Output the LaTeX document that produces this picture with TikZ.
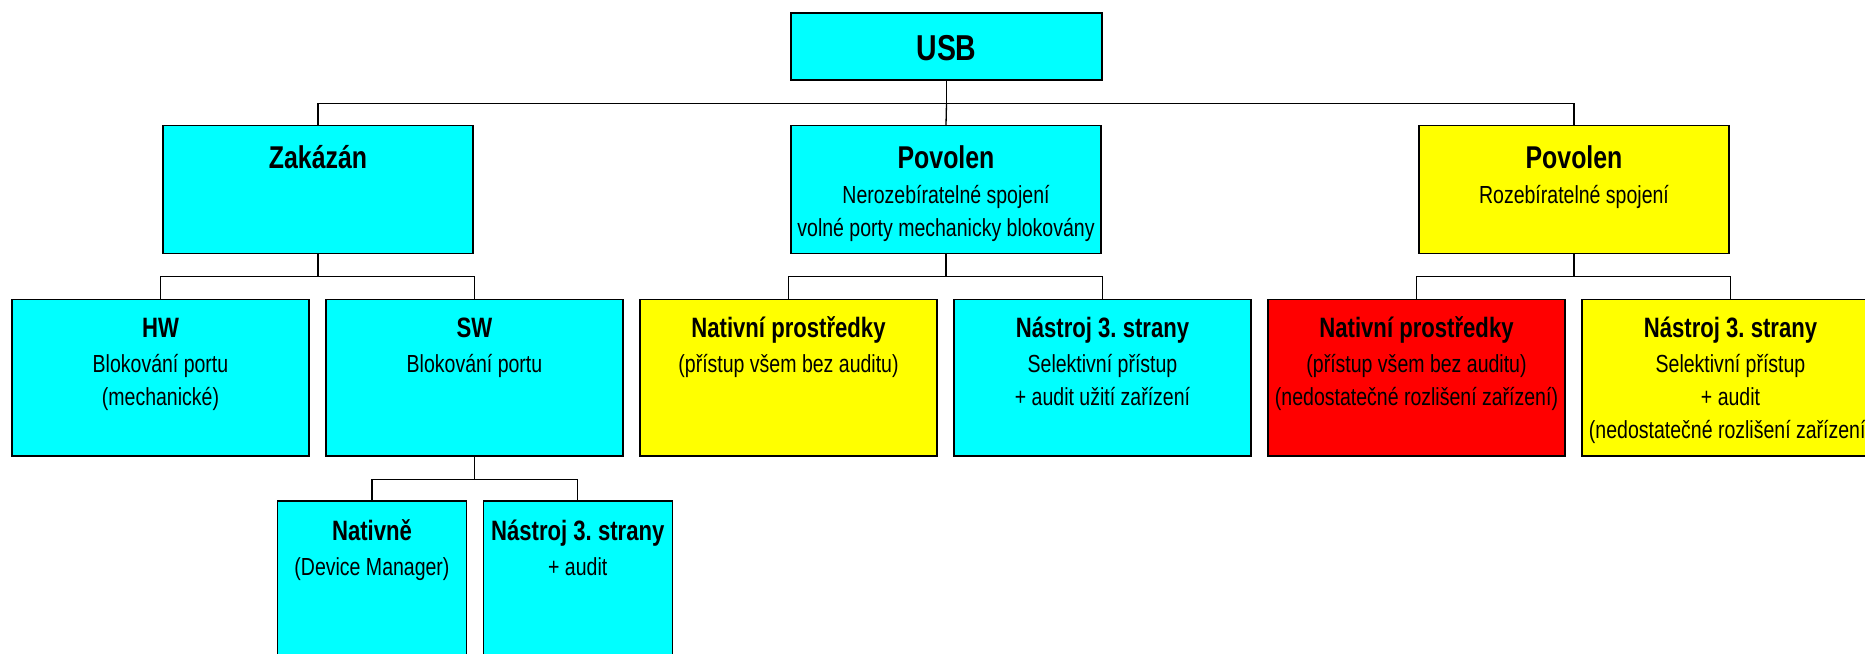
\documentclass[tikz,border=0pt]{standalone}
\usepackage{fontspec}
\setmainfont{Liberation Sans}[FakeStretch=0.79]
\frenchspacing
\definecolor{boxcyan}{RGB}{0,255,255}
\definecolor{boxyellow}{RGB}{255,255,0}
\definecolor{boxred}{RGB}{255,0,0}
\newcommand{\toptitle}{\fontsize{36}{33}\selectfont\bfseries}
\newcommand{\midtitle}{\fontsize{31.5}{33}\selectfont\bfseries}
\newcommand{\lowtitle}{\fontsize{28}{33}\selectfont\bfseries}
\tikzset{
  box/.style={draw,line width=1.4pt,rectangle,inner sep=0pt,
    minimum width=297pt,minimum height=156.5pt},
  wide/.style={box,minimum width=310pt,minimum height=128pt},
  narrow/.style={box,minimum width=189pt,minimum height=157pt},
  txt/.style={anchor=base,align=flush center,inner sep=0pt,text width=320pt,
    font=\fontsize{24.7}{33}\selectfont},
  conn/.style={line width=1.3pt},
}
\begin{document}
\begin{tikzpicture}[x=1pt,y=-1pt]
  \clip (0,0) rectangle (1865,653);
  % boxes
  \node[box,fill=boxcyan,minimum width=311pt,minimum height=67pt] (usb) at (946.5,46.5) {};
  \node[wide,fill=boxcyan] (zak) at (318,189.5) {};
  \node[wide,fill=boxcyan] (povN) at (946,189.5) {};
  \node[wide,fill=boxyellow] (povR) at (1574,189.5) {};
  \node[box,fill=boxcyan] (hw) at (160.5,377.75) {};
  \node[box,fill=boxcyan] (sw) at (474.5,377.75) {};
  \node[box,fill=boxyellow] (natY) at (788.5,377.75) {};
  \node[box,fill=boxcyan] (nasC) at (1102.5,377.75) {};
  \node[box,fill=boxred] (natR) at (1416.5,377.75) {};
  \node[box,fill=boxyellow] (nasY) at (1730.5,377.75) {};
  \node[narrow,fill=boxcyan] (natv) at (372,579.5) {};
  \node[narrow,fill=boxcyan] (nasA) at (577.75,579.5) {};

  % texts
  \node[txt] (usb-t) at (946.5,60) {\toptitle USB};
  \node[txt] (zak-t) at (318,168.5) {\midtitle Zakázán};
  \node[txt] (povN-t) at (946,168.5) {{\midtitle Povolen}\\[1.5pt]
    Nerozebíratelné spojení\\ volné porty mechanicky blokovány};
  \node[txt] (povR-t) at (1574,168.5) {{\midtitle Povolen}\\[1.5pt]
    Rozebíratelné spojení};
  \node[txt] (hw-t) at (160.5,337.5) {{\lowtitle HW}\\[1.5pt]
    Blokování portu\\ (mechanické)};
  \node[txt] (sw-t) at (474.5,337.5) {{\lowtitle SW}\\[1.5pt]
    Blokování portu};
  \node[txt] (natY-t) at (788.5,337.5) {{\lowtitle Nativní prostředky}\\[1.5pt]
    (přístup všem bez auditu)};
  \node[txt] (nasC-t) at (1102.5,337.5) {{\lowtitle Nástroj 3. strany}\\[1.5pt]
    Selektivní přístup\\ + audit užití zařízení};
  \node[txt] (natR-t) at (1416.5,337.5) {{\lowtitle Nativní prostředky}\\[1.5pt]
    (přístup všem bez auditu)\\ (nedostatečné rozlišení zařízení)};
  \node[txt] (nasY-t) at (1730.5,337.5) {{\lowtitle Nástroj 3. strany}\\[1.5pt]
    Selektivní přístup\\ + audit\\ (nedostatečné rozlišení zařízení)};
  \node[txt] (natv-t) at (372,540) {{\lowtitle Nativně}\\[2pt]
    (Device Manager)};
  \node[txt] (nasA-t) at (577.75,540) {{\lowtitle Nástroj 3. strany}\\[2pt]
    + audit};

  % connectors
  \draw[conn] (usb.south) -- ++(0,22.5) coordinate (bus1) -| (zak.north);
  \draw[conn] (bus1) -| (povR.north);
  \draw[conn] (bus1) -- (povN.north);
  \draw[conn] (zak.south) -- ++(0,22.5) coordinate (bus2) -| (hw.north);
  \draw[conn] (bus2) -| (sw.north);
  \draw[conn] (povN.south) -- ++(0,22.5) coordinate (bus3) -| (natY.north);
  \draw[conn] (bus3) -| (nasC.north);
  \draw[conn] (povR.south) -- ++(0,22.5) coordinate (bus4) -| (natR.north);
  \draw[conn] (bus4) -| (nasY.north);
  \draw[conn] (sw.south) -- ++(0,23) coordinate (bus5) -| (natv.north);
  \draw[conn] (bus5) -| (nasA.north);
\end{tikzpicture}
\end{document}
